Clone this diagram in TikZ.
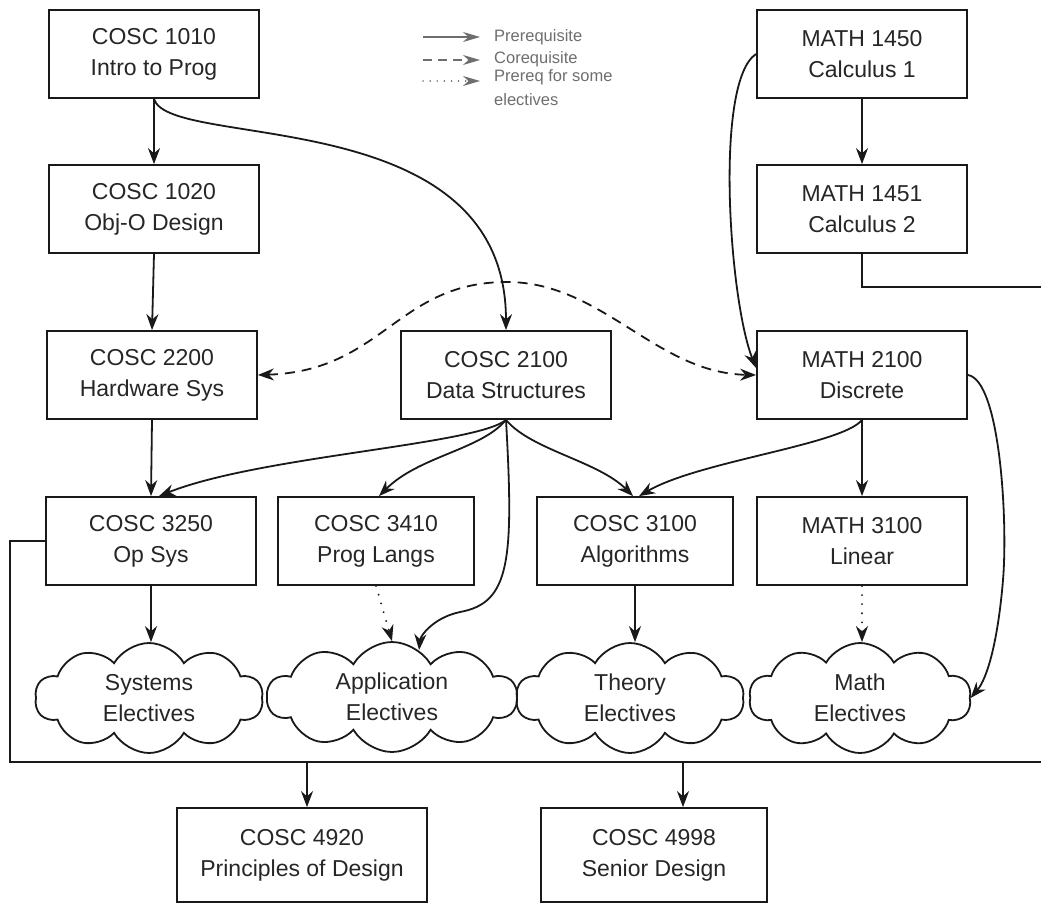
\documentclass[tikz,border=0pt]{standalone}
\usepackage{fontspec}
\setmainfont{Liberation Sans}
\usetikzlibrary{arrows.meta,shapes.symbols,calc}
\definecolor{txt}{HTML}{262626}
\definecolor{leg}{HTML}{6E6E6E}
\begin{document}
\begin{tikzpicture}[x=1pt,y=-1pt,
  box/.style={draw=black!90, line width=1.8pt, minimum width=210pt, minimum height=88pt,
    align=center, inner sep=0pt, text=txt, font=\fontsize{23}{31}\selectfont},
  cloudbox/.style={cloud, cloud puffs=10, cloud puff arc=120, cloud ignores aspect,
    draw=black!90, line width=1.8pt, minimum width=228pt, minimum height=110pt,
    align=center, inner sep=0pt, text=txt, font=\fontsize{23}{31}\selectfont},
  conn/.style={line width=1.8pt, draw=black!90},
  arr/.style={conn, -{Stealth[length=16pt,width=12pt]}},
  coarr/.style={conn, dash pattern=on 10pt off 7pt, {Stealth[length=16pt,width=12pt]}-{Stealth[length=16pt,width=12pt]}},
  dotarr/.style={conn, line width=2pt, line cap=round, dash pattern=on 0.1pt off 9pt, -{Stealth[length=16pt,width=12pt]}},
  legline/.style={line width=1.5pt, draw=leg, -{Stealth[length=17pt,width=10pt]}},
  legtext/.style={anchor=west, text=leg, inner sep=0pt, font=\fontsize{16.5}{24}\selectfont}
]
\useasboundingbox (0,0) rectangle (1041,905);

% boxes
\node[box] (c1010) at (154,54) {COSC 1010\\Intro to Prog};
\node[box] (c1020) at (154,209) {COSC 1020\\Obj-O Design};
\node[box] (c2200) at (152,375) {COSC 2200\\Hardware Sys};
\node[box] (c2100) at (506,375) {COSC 2100\\Data Structures};
\node[box] (m1450) at (862,54) {MATH 1450\\Calculus 1};
\node[box] (m1451) at (862,209) {MATH 1451\\Calculus 2};
\node[box] (m2100) at (862,375) {MATH 2100\\Discrete};
\node[box] (c3250) at (151,541) {COSC 3250\\Op Sys};
\node[box, minimum width=196pt] (c3410) at (376,541) {COSC 3410\\Prog Langs};
\node[box, minimum width=196pt] (c3100) at (635,541) {COSC 3100\\Algorithms};
\node[box] (m3100) at (862,541) {MATH 3100\\Linear};
\node[box, minimum width=250pt, minimum height=94pt] (c4920) at (302,855) {COSC 4920\\Principles of Design};
\node[box, minimum width=226pt, minimum height=94pt] (c4998) at (654,855) {COSC 4998\\Senior Design};

% clouds
\node[cloudbox] (sysE) at (149,698) {Systems\\Electives};
\node[cloudbox, minimum width=250pt] (appE) at (392,697) {Application\\Electives};
\node[cloudbox] (thE) at (630,698) {Theory\\Electives};
\node[cloudbox, minimum width=222pt] (mathE) at (860,698) {Math\\Electives};

% legend
\coordinate (l1a) at (423,37); \coordinate (l1b) at (480,37);
\coordinate (l2a) at (423,60); \coordinate (l2b) at (480,60);
\coordinate (l3a) at (423,81); \coordinate (l3b) at (480,81);
\draw[legline] (l1a) -- (l1b);
\draw[legline, dash pattern=on 9pt off 6pt] (l2a) -- (l2b);
\draw[legline, line cap=round, dash pattern=on 0.1pt off 7pt] (l3a) -- (l3b);
\node[legtext] (lt1) at (494,37) {Prerequisite};
\node[legtext] (lt2) at (494,59) {Corequisite};
\node[legtext, align=left, anchor=north west] (lt3) at (494,69) {Prereq for some\\electives};

% prerequisite arrows
\draw[arr] (c1010.south) -- (c1020.north);
\draw[arr] (c1020.south) -- (c2200.north);
\draw[arr] (c2200.south) -- (c3250.north);
\draw[arr] (m1450.south) -- (m1451.north);
\draw[arr] (m2100.south) -- (m3100.north);
\draw[arr] (c3250.south) -- (sysE.north -| c3250.south);
\draw[arr] (c3100.south) -- (thE.north -| c3100.south);

\draw[arr] (c1010.south) .. controls +(15,52) and +(0,-230) .. (c2100.north);

% corequisite
\coordinate (copeak) at (507,282);
\draw[coarr] (c2200.east) .. controls +(125,-4) and +(-110,0) .. (copeak)
  .. controls +(95,0) and +(-100,-2) .. (m2100.west);

\draw[arr] (m1450.west) .. controls +(-42,27) and +(-27,-68) .. ($(m2100.west)+(0,-7)$);

% from data structures
\draw[arr] (c2100.south) .. controls +(-30,25) and +(100,-40) .. ($(c3250.north)+(8,0)$);
\draw[arr] (c2100.south) .. controls +(-25,30) and +(40,-40) .. ($(c3410.north)+(3,0)$);
\draw[arr] (c2100.south) .. controls +(25,30) and +(-35,-35) .. ($(c3100.north)+(-2,0)$);
\coordinate (dsbend) at (460,612);
\draw[arr] (c2100.south) .. controls +(8,141) and +(50,-9) .. (dsbend)
  .. controls +(-28,6) and +(1,-13) .. (appE.60);

% from discrete
\draw[arr] (m2100.south) .. controls +(-20,25) and +(60,-35) .. ($(c3100.north)+(4,0)$);
\coordinate (dbend) at (1003,580);
\draw[arr] (m2100.east) .. controls +(32,5) and +(5,-60) .. (dbend)
  .. controls +(-5,60) and +(17,-20) .. (mathE.east);

% prereq for some electives
\draw[dotarr] (c3410.south) -- (appE.north);
\draw[dotarr] (m3100.south) -- (mathE.north -| m3100.south);

% long lines
\coordinate (rtop) at (1041,287);
\draw[conn] (m1451.south) |- (rtop);
\coordinate (lcorner) at (10,762);
\coordinate (rbot) at (1041,762);
\draw[conn] (c3250.west) -| (lcorner) -- (rbot);
\coordinate (j1) at (307,762);
\coordinate (j2) at (683,762);
\draw[arr] (j1) -- (j1 |- c4920.north);
\draw[arr] (j2) -- (j2 |- c4998.north);
\end{tikzpicture}
\end{document}
